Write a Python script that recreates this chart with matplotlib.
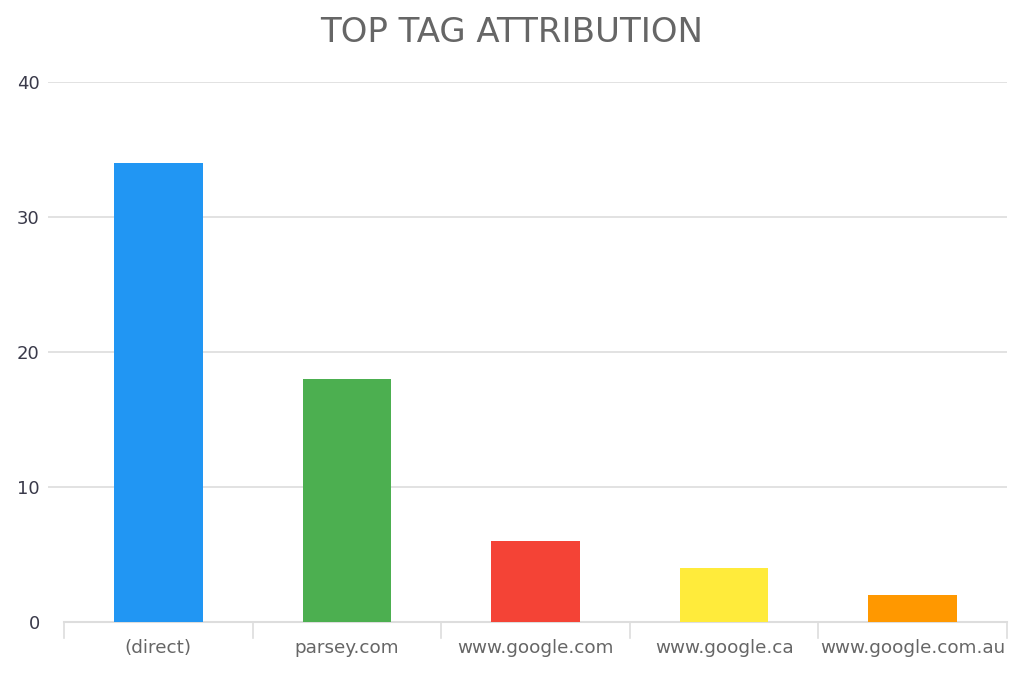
import matplotlib.pyplot as plt

# chart data
tags = ["(direct)", "parsey.com", "www.google.com", "www.google.ca", "www.google.com.au"]
counts = [34, 18, 6, 4, 2]
colors = ["#2196F3", "#4CAF50", "#F44336", "#FFEB3B", "#FF9800"]
y_ticks = [0, 10, 20, 30, 40]

fig = plt.figure(figsize=(10.24, 6.83), dpi=100)
ax = fig.add_axes([48 / 1024, 61 / 683, 959 / 1024, 540 / 683])

x = list(range(len(tags)))
ax.bar(x, counts, width=0.47, color=colors, zorder=3)

# horizontal grid lines reach a bit to the left of the axis
for t in y_ticks[1:]:
    ax.axhline(t, color="#dddddd", linewidth=1.2, zorder=1)

# baseline and category separators
ax.plot([-0.5, len(tags) - 0.5], [0, 0], color="#dddddd", linewidth=1.5,
        zorder=2, clip_on=False)
for b in range(len(tags) + 1):
    ax.plot([b - 0.5, b - 0.5], [0, -1.2], color="#dddddd", linewidth=1.2,
            clip_on=False)

ax.set_xlim(-0.585, len(tags) - 0.5)
ax.set_ylim(0, 40)

for spine in ax.spines.values():
    spine.set_visible(False)

ax.set_yticks(y_ticks)
ax.set_yticklabels([str(t) for t in y_ticks])
ax.tick_params(axis="y", length=0, pad=6, labelsize=13, labelcolor="#3a3a4a")
ax.set_xticks(x)
ax.set_xticklabels(tags)
ax.tick_params(axis="x", length=0, pad=12, labelsize=13.2, labelcolor="#666666")

fig.text(0.5, 0.953, "TOP TAG ATTRIBUTION", ha="center", va="center",
         fontsize=24.5, color="#666666")

fig.savefig("out.png", dpi=100)
